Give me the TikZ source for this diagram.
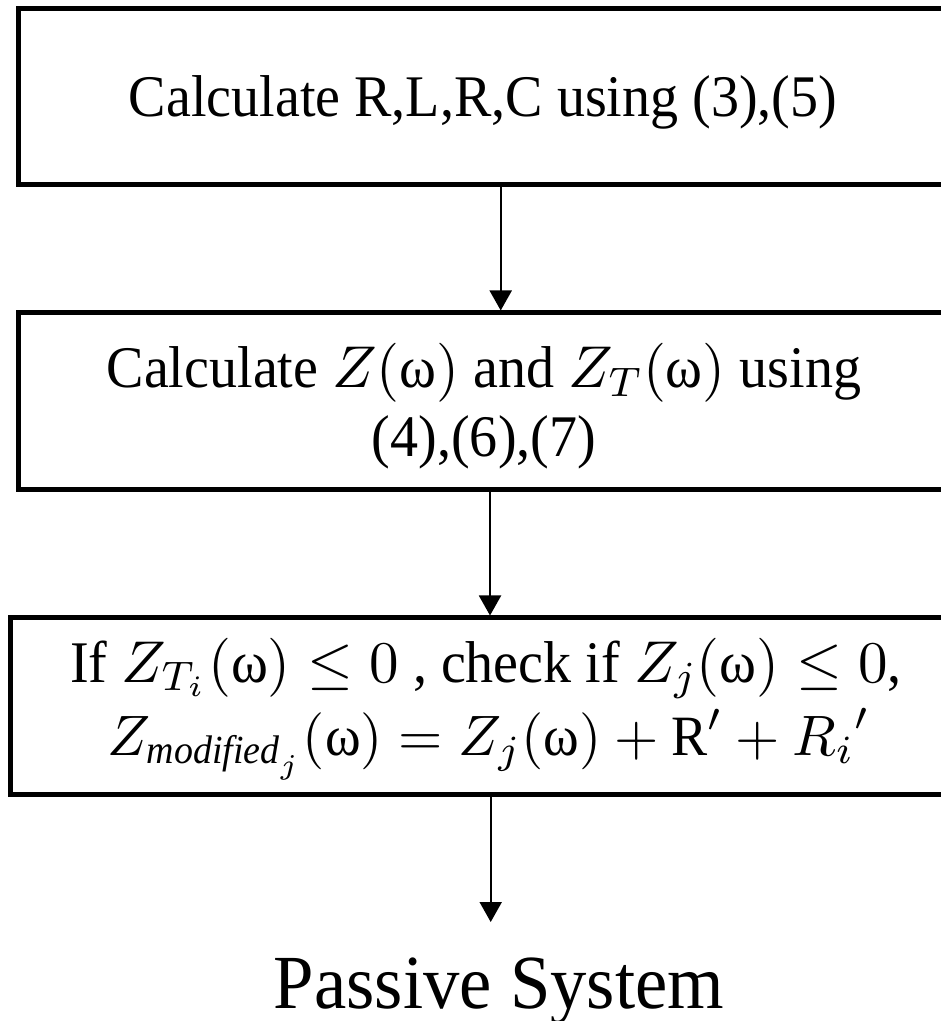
\documentclass[tikz,border=0pt]{standalone}
\usepackage{fix-cm}
\usepackage{amsmath}
\usepackage{fontspec}
\setmainfont[FakeStretch=0.95]{Liberation Serif}
\usetikzlibrary{arrows.meta}
\begin{document}
\begin{tikzpicture}[x=0.2pt,y=-0.2pt,
  box/.style={draw,line width=1pt,rectangle,inner sep=0pt},
  txt/.style={anchor=base,inner sep=0pt,font=\fontsize{11.8}{13.8}\selectfont},
  arr/.style={line width=0.4pt,-{Triangle[width=4.4pt,length=4pt]}},
  lbl/.style={anchor=base,font=\fontsize{15.3}{17}\selectfont,inner sep=0pt}]
\useasboundingbox (0,0) rectangle (941,1021);
\clip (0,0) rectangle (941,1021);
\node[box,minimum width=185.8pt,minimum height=35.2pt] (b1) at (483,97) {};
\node[box,minimum width=186.2pt,minimum height=35.4pt] (b2) at (484,401.5) {};
\node[box,minimum width=191.6pt,minimum height=35.2pt] (b3) at (490,706) {};
\node[txt] (t1) at (483,117) {Calculate R,L,R,C using (3),(5)};
\node[txt] (t2a) at (484,388) {Calculate $Z(\text{ω})$ and $Z_T(\text{ω})$ using};
\node[txt] (t2b) at (484,457) {(4),(6),(7)};
\node[txt] (t3a) at (486,682) {If $Z_{T_i}(\text{ω}) \leq 0$ , check if $Z_j(\text{ω}) \leq 0$,};
\node[txt,font=\fontsize{11.4}{13}\selectfont] (t3b) at (489,755)
  {$Z_{\textit{modified}_j}(\text{ω}) = Z_j(\text{ω}) + \text{R}' + {R_i}'$};
\node[lbl] (ps) at (499,1008) {Passive System};
\coordinate (c1) at (500.7,0);
\coordinate (c2) at (490,0);
\coordinate (c3) at (490.7,0);
\coordinate (e3) at (490.7,922);
\draw[arr] (b1.south -| c1) -- (b2.north -| c1);
\draw[arr] (b2.south -| c2) -- (b3.north -| c2);
\draw[arr] (b3.south -| c3) -- (e3);
\end{tikzpicture}
\end{document}
